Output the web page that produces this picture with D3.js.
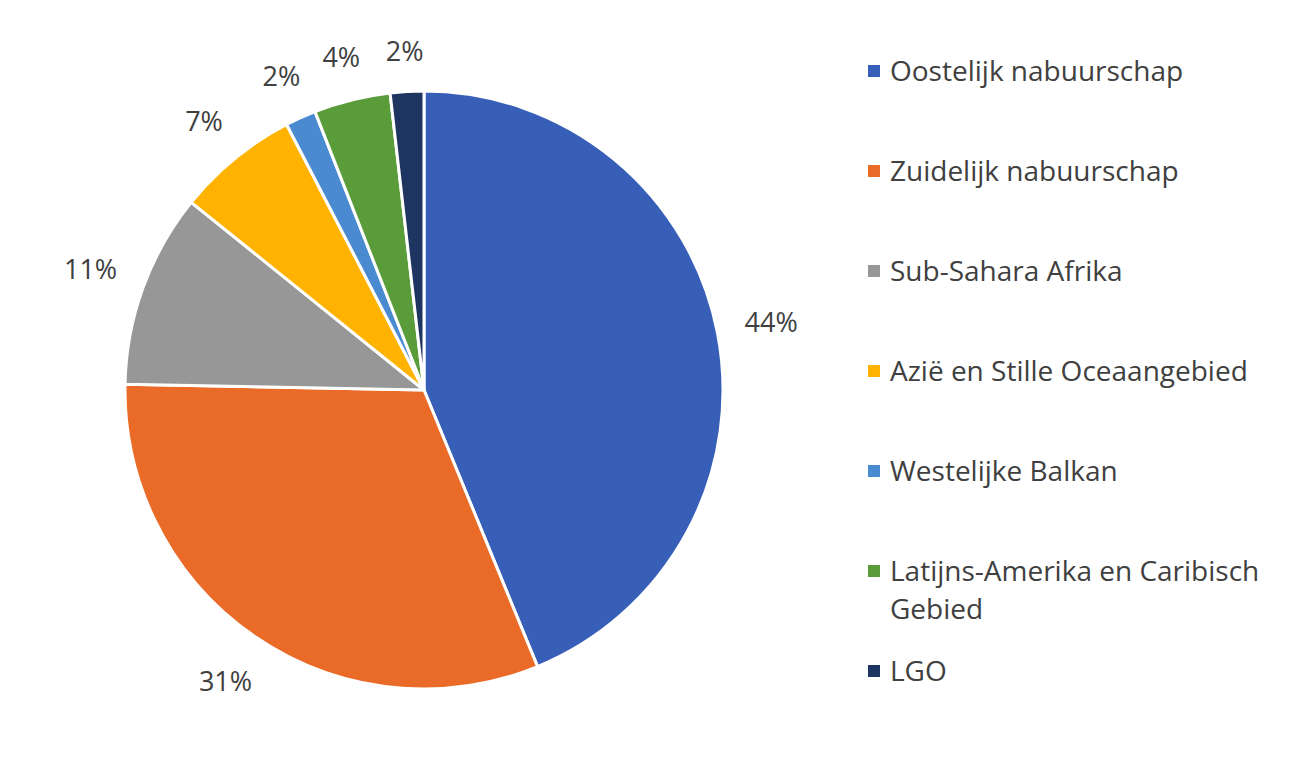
<!DOCTYPE html>
<html>
<head>
<meta charset="utf-8">
<script src="https://cdn.jsdelivr.net/npm/d3@7"></script>
<style>
 body { margin: 0; background: #fff; }
 text { font-family: "Open Sans", "Noto Sans", sans-serif; fill: #404040; }
</style>
</head>
<body>
<svg id="mainContainer"></svg>
<script>
// regions and their shares (percent)
var categories = ["Oostelijk nabuurschap", "Zuidelijk nabuurschap", "Sub-Sahara Afrika",
  "Azië en Stille Oceaangebied", "Westelijke Balkan", "Latijns-Amerika en Caribisch Gebied", "LGO"];
var values = [43.8, 31.5, 10.5, 6.6, 1.66, 4.13, 1.81];
var labels = ["44%", "31%", "11%", "7%", "2%", "4%", "2%"];
var legendLines = [["Oostelijk nabuurschap"], ["Zuidelijk nabuurschap"], ["Sub-Sahara Afrika"],
  ["Azië en Stille Oceaangebied"], ["Westelijke Balkan"], ["Latijns-Amerika en Caribisch", "Gebied"], ["LGO"]];
var colors = ["#375FB8", "#E96B27", "#979797", "#FFB300", "#4A8AD0", "#5A9C39", "#1E3562"];

var svgWidth = 1299, svgHeight = 779;
var cx = 424, cy = 390, radius = 299;

var svg = d3.select('#mainContainer')
  .attr('width', svgWidth)
  .attr('height', svgHeight);

var data = categories.map(function(c, i){ return {name: c, value: values[i], label: labels[i], color: colors[i]}; });

var pie = d3.pie().sort(null).value(function(d){ return d.value; });
var arcs = pie(data);

var arc = d3.arc().innerRadius(0).outerRadius(radius);

var g = svg.append('g').attr('transform', 'translate(' + cx + ',' + cy + ')');

g.selectAll('path')
  .data(arcs)
  .enter()
  .append('path')
  .attr('d', arc)
  .attr('fill', function(d){ return d.data.color; })
  .attr('stroke', '#fff')
  .attr('stroke-width', 3)
  .attr('stroke-linejoin', 'round');

// outside-end labels: keep the text box a fixed gap away from the rim
var gap = 26, halfH = 14;
g.selectAll('.lbl')
  .data(arcs)
  .enter()
  .append('text')
  .attr('class', 'lbl')
  .attr('text-anchor', 'middle')
  .attr('dominant-baseline', 'central')
  .style('font-size', '27px')
  .text(function(d){ return d.data.label; })
  .each(function(d){
    var a = (d.startAngle + d.endAngle) / 2;
    var halfW = this.getComputedTextLength() / 2;
    var dist = radius + gap + Math.abs(Math.sin(a)) * halfW + Math.abs(Math.cos(a)) * halfH;
    d3.select(this)
      .attr('x', Math.sin(a) * dist)
      .attr('y', -Math.cos(a) * dist);
  });

// legend
var legend = svg.append('g').attr('transform', 'translate(868,71)');
var items = legend.selectAll('.item')
  .data(data)
  .enter()
  .append('g')
  .attr('class', 'item')
  .attr('transform', function(d, i){ return 'translate(0,' + (i * 100) + ')'; });

items.append('rect')
  .attr('x', 0).attr('y', -6)
  .attr('width', 12).attr('height', 12)
  .attr('fill', function(d){ return d.color; });

items.append('text')
  .attr('x', 22)
  .attr('y', 10)
  .style('font-size', '28px')
  .selectAll('tspan')
  .data(function(d, i){ return legendLines[i]; })
  .enter()
  .append('tspan')
  .attr('x', 22)
  .attr('dy', function(d, j){ return j === 0 ? 0 : 38; })
  .text(function(d){ return d; });
</script>
</body>
</html>
